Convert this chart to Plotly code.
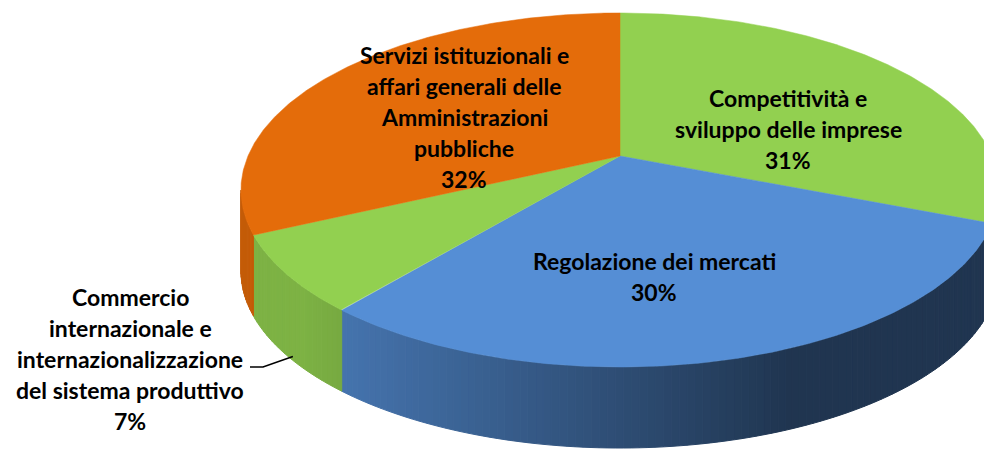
import numpy as np
import plotly.graph_objects as go

# ---- data ----
categories = [
    "Competitività e sviluppo delle imprese",
    "Regolazione dei mercati",
    "Commercio internazionale e internazionalizzazione del sistema produttivo",
    "Servizi istituzionali e affari generali delle Amministrazioni pubbliche",
]
values = [31, 30, 7, 32]
colors = ["#92D050", "#558ED5", "#92D050", "#E46C0A"]
label_lines = [
    ["Competitività e", "sviluppo delle imprese"],
    ["Regolazione dei mercati"],
    ["Commercio", "internazionale e", "internazionalizzazione", "del sistema produttivo"],
    ["Servizi istituzionali e", "affari generali delle", "Amministrazioni", "pubbliche"],
]

# ---- layout / projection parameters ----
CX, CY, S, T, K, H = 620, 156, 372, 170.5, 0.192, 81
label_pos = [(788, 129), (654, 276), (130, 359), (464, 117)]
LINE_H = 31
FONT = dict(family="Lato", size=23, color="#000000", weight="bold")


def proj(deg):
    th = np.radians(deg)
    X, Y = np.sin(th), np.cos(th)
    d = 1 + K * Y
    return CX + S * X / d, CY - T * Y / d


def hex2rgb(h):
    h = h.lstrip("#")
    return [int(h[i:i + 2], 16) for i in (0, 2, 4)]


def shade(hexc, f):
    r, g, b = hex2rgb(hexc)
    return "rgb(%d,%d,%d)" % (r * f, g * f, b * f)


def wall_factor(x):
    return float(np.clip(0.82 - (x - 340) * 0.00098, 0.38, 0.86))


total = sum(values)
cum = np.cumsum([0] + values) / total * 360.0
starts, ends = cum[:-1], cum[1:]

grid = np.linspace(0, 360, 3601)
gx, _ = proj(grid)
thR = grid[np.argmax(gx)]
thL = grid[np.argmin(gx)]

fig = go.Figure()

# side walls (front part)
for i in range(len(values)):
    a, b = max(starts[i], thR), min(ends[i], thL)
    if a >= b:
        continue
    n = max(2, int((b - a) / 1.0))
    edges = np.linspace(a, b, n + 1)
    for e0, e1 in zip(edges[:-1], edges[1:]):
        x1, y1 = proj(e0)
        x2, y2 = proj(e1)
        col = shade(colors[i], wall_factor((x1 + x2) / 2))
        fig.add_trace(go.Scatter(
            x=[x1, x2, x2, x1, x1], y=[y1, y2, y2 + H, y1 + H, y1],
            mode="lines", fill="toself", fillcolor=col,
            line=dict(color=col, width=1), hoverinfo="skip", showlegend=False))

# top faces
for i in range(len(values)):
    th = np.linspace(starts[i], ends[i], 200)
    xs, ys = proj(th)
    fig.add_trace(go.Scatter(
        x=np.concatenate([[CX], xs, [CX]]), y=np.concatenate([[CY], ys, [CY]]),
        mode="lines", fill="toself", fillcolor=colors[i],
        line=dict(color=colors[i], width=0.5), name=categories[i],
        hoverinfo="skip", showlegend=False))

# leader line for the small slice
mid = (starts[2] + ends[2]) / 2
mx, my = proj(mid)
lx, ly = label_pos[2]
fig.add_trace(go.Scatter(
    x=[lx + 120, lx + 133, mx + 6], y=[ly + 8, ly + 8, my + H + 1],
    mode="lines", line=dict(color="black", width=1.5),
    hoverinfo="skip", showlegend=False))

# labels
annotations = []
for i in range(len(values)):
    lines = label_lines[i] + ["%d%%" % values[i]]
    cx, cy = label_pos[i]
    n = len(lines)
    for j, t in enumerate(lines):
        annotations.append(dict(
            x=cx, y=cy + (j - (n - 1) / 2) * LINE_H, text=t, showarrow=False,
            xanchor="center", yanchor="middle", font=FONT))

fig.update_layout(
    width=984, height=450, margin=dict(l=0, r=0, t=0, b=0),
    paper_bgcolor="white", plot_bgcolor="white",
    xaxis=dict(range=[0, 984], visible=False, fixedrange=True),
    yaxis=dict(range=[450, 0], visible=False, fixedrange=True),
    annotations=annotations, showlegend=False,
)

fig.write_html("out.html")
